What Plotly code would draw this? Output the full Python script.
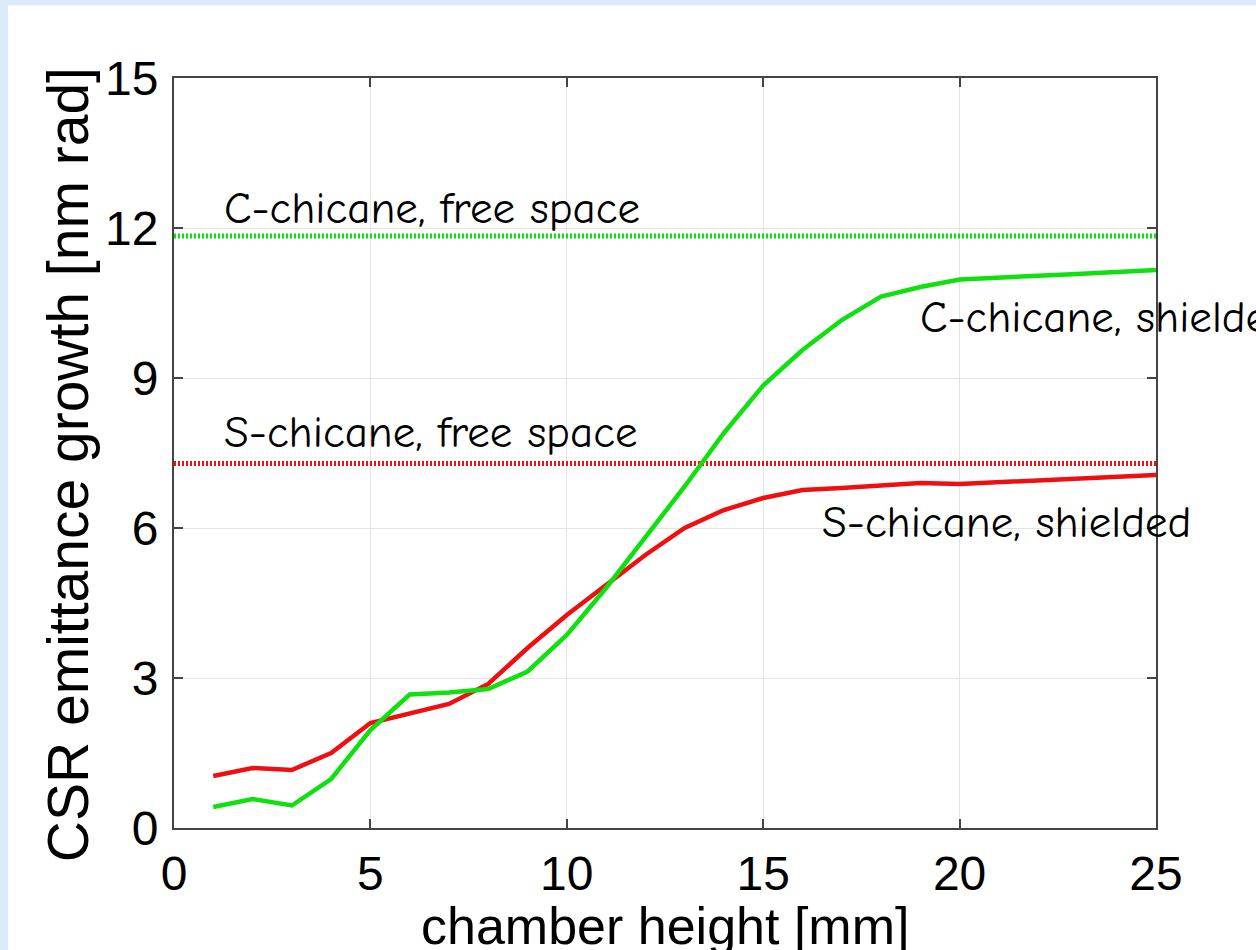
import plotly.graph_objects as go

# chamber height [mm]
height_mm = list(range(1, 26))

# C-chicane, shielded
c_shielded = [0.42, 0.58, 0.45, 0.98, 1.96, 2.67, 2.71, 2.78, 3.13, 3.86,
              4.80, 5.82, 6.83, 7.90, 8.85, 9.56, 10.16, 10.63, 10.82, 10.97,
              11.00, 11.05, 11.08, 11.12, 11.16]
# S-chicane, shielded
s_shielded = [1.04, 1.20, 1.16, 1.50, 2.10, 2.28, 2.48, 2.88, 3.60, 4.26,
              4.86, 5.46, 6.00, 6.36, 6.60, 6.76, 6.80, 6.84, 6.90, 6.88,
              6.92, 6.96, 6.99, 7.02, 7.06]
# free-space values
c_free = 11.84
s_free = 7.29

x_range = [0, 25]
y_range = [0, 15]
x_ticks = [0, 5, 10, 15, 20, 25]
y_ticks = [0, 3, 6, 9, 12, 15]
x_title = "chamber height [mm]"
y_title = "CSR emittance growth [nm rad]"

GREEN = "#10E010"
RED = "#EE1010"

fig = go.Figure()
fig.add_trace(go.Scatter(x=x_range, y=[c_free, c_free], mode="lines",
                         line=dict(color=GREEN, width=5, dash="2px,2px"),
                         showlegend=False))
fig.add_trace(go.Scatter(x=x_range, y=[s_free, s_free], mode="lines",
                         line=dict(color=RED, width=5, dash="2px,2px"),
                         showlegend=False))
fig.add_trace(go.Scatter(x=height_mm, y=s_shielded, mode="lines",
                         line=dict(color=RED, width=4.5), showlegend=False))
fig.add_trace(go.Scatter(x=height_mm, y=c_shielded, mode="lines",
                         line=dict(color=GREEN, width=4.5), showlegend=False))

lab_font = dict(family="Comic Sans MS, Comic Neue, Noto Sans", size=45, color="black")
labels = [
    ("C-chicane, free space", 1.22, 12.40),
    ("S-chicane, free space", 1.22, 7.92),
    ("C-chicane, shielded", 18.94, 10.22),
    ("S-chicane, shielded", 16.45, 6.12),
]
for txt, lx, ly in labels:
    fig.add_annotation(x=lx, y=ly, text=txt, showarrow=False,
                       xanchor="left", yanchor="middle", font=lab_font)

title_font = dict(family="Liberation Sans, Arial", color="black")
fig.add_annotation(xref="paper", yref="paper", x=0.5, y=-0.131, text=x_title,
                   showarrow=False, xanchor="center", yanchor="middle",
                   font=dict(size=52, **title_font))
fig.add_annotation(xref="paper", yref="paper", x=-0.108, y=0.485, text=y_title,
                   showarrow=False, xanchor="center", yanchor="middle", textangle=-90,
                   font=dict(size=57, **title_font))

# white page inside light-blue frame
fig.add_shape(type="rect", xref="paper", yref="paper",
              x0=-0.169, x1=1.2, y0=-0.2, y1=1.097,
              fillcolor="white", line=dict(width=0), layer="below")

axis_common = dict(showline=True, linecolor="#444444", linewidth=2, mirror="allticks",
                   ticks="inside", ticklen=9, tickcolor="#444444", tickwidth=2,
                   showgrid=True, gridcolor="#E4E4E4", gridwidth=1, zeroline=False,
                   tickfont=dict(family="Liberation Sans, Arial", size=48, color="black"))

fig.update_xaxes(range=x_range, tickvals=x_ticks, ticklabelstandoff=2, **axis_common)
fig.update_yaxes(range=y_range, tickvals=y_ticks, ticklabelstandoff=4, **axis_common)

fig.update_layout(width=1256, height=950,
                  margin=dict(l=174, r=100, t=78, b=122, autoexpand=False),
                  paper_bgcolor="#DCEBFB", plot_bgcolor="white")

fig.write_html("out.html", config={"displayModeBar": False},
               post_script="document.body.style.margin='0';document.body.style.overflow='hidden';")
